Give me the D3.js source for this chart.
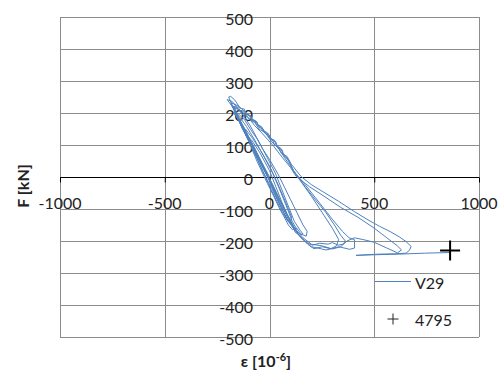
<!DOCTYPE html>
<html><head><meta charset="utf-8">
<script src="https://cdn.jsdelivr.net/npm/d3@7"></script>
<style>body{margin:0;background:#fff}svg{display:block}text{font-family:Lato,"Open Sans",sans-serif}</style>
</head><body>
<svg id="c" width="499" height="370"></svg>
<script>
const xTicks=[-1000,-500,0,500,1000];
const yTicks=[-500,-400,-300,-200,-100,0,100,200,300,400,500];
const seriesName="V29";
const failureName="4795";
const failurePoint=[[862,-230]];
// strain [1e-6], force [kN]
const v29=[
[0,0],[-40,50],[-90,110],[-110,130],[-85,115],[-45,75],[0,20],[30,-30],[60,-80],[80,-110],[62,-100],[30,-60],[0,-12],[-40,40],
[-60,70],[-120,150],[-140,165],[-115,150],[-80,120],[-40,80],[0,35],[35,-15],[65,-60],[90,-100],[105,-125],[100,-140],[85,-135],[70,-115],[40,-75],[10,-35],[-30,15],
[-100,120],[-150,180],[-172,203],[-145,190],[-110,158],[-70,115],[-25,62],[15,12],[48,-38],[80,-90],[108,-138],[130,-163],[112,-160],[82,-128],[52,-90],[22,-42],[-18,18],[-70,90],
[-130,162],[-180,222],[-202,242],[-178,236],[-152,214],[-122,190],[-92,160],[-52,112],[-12,62],[28,12],[58,-38],[88,-88],[118,-138],[148,-168],[160,-178],[142,-182],[122,-172],[112,-152],[92,-142],[62,-112],[32,-72],[2,-32],[-38,28],
[-90,100],[-140,170],[-170,200],[-150,198],[-120,180],[-90,148],[-60,120],[-30,85],[0,55],[40,10],[70,-30],[100,-70],[130,-110],[160,-150],[180,-170],[175,-185],[150,-178],[130,-160],[110,-165],[90,-150],[70,-125],[45,-95],[20,-60],[-10,-20],[-60,50],[-100,112],
[-150,182],[-195,250],[-185,252],[-165,240],[-140,215],[-120,212],[-110,195],[-90,192],[-80,175],[-60,172],[-50,155],[-30,150],[-20,135],[0,130],[10,115],[30,110],[40,90],[60,85],[70,65],[90,55],[110,25],[130,5],[170,-30],[220,-72],[270,-112],[310,-150],[340,-182],[362,-200],[352,-210],[328,-213],[300,-205],[280,-210],[240,-207],[205,-213],[175,-204],[150,-190],[120,-165],[90,-132],[60,-92],[30,-52],[0,-12],[-40,40],[-90,102],[-130,152],
[-168,210],[-185,232],[-168,228],[-150,222],[-130,212],[-115,200],[-100,195],[-88,182],[-72,178],[-62,164],[-44,160],[-34,146],[-14,140],[-4,124],[14,118],[24,100],[44,94],[54,76],[74,68],[98,42],[118,16],[140,0],[180,-32],[240,-82],[300,-132],[348,-170],[380,-190],[406,-196],[406,-222],[382,-226],[332,-218],[292,-224],[252,-218],[212,-224],[182,-210],[152,-190],[130,-172],[102,-142],[72,-102],[42,-62],[12,-22],[-28,28],[-80,92],[-130,152],
[-162,200],[-178,222],[-160,218],[-140,205],[-118,198],[-96,180],[-70,170],[-50,150],[-20,138],[10,110],[40,92],[70,62],[100,34],[140,-5],[200,-60],[260,-120],[300,-160],[330,-195],[320,-215],[290,-225],[270,-228],[230,-222],[200,-218],[170,-200],[140,-180],[110,-150],[80,-112],[50,-72],[20,-30],[-20,22],[-70,84],[-120,146],
[-155,195],[-168,215],[-150,212],[-128,200],[-100,185],[-70,160],[-40,140],[-10,118],[20,96],[60,62],[100,30],[127,2],[190,-30],[260,-60],[340,-95],[420,-125],[500,-160],[560,-190],[610,-215],[630,-228],[611,-237],[560,-222],[500,-204],[450,-196],[405,-190],[370,-200],[340,-218],[300,-225],[250,-215],[200,-210],[160,-190],[120,-160],[80,-110],[40,-60],[0,-10],[-50,60],[-110,140],[-150,190],
[-170,220],[-150,218],[-140,208],[-120,206],[-110,196],[-92,192],[-82,178],[-64,175],[-54,160],[-36,156],[-26,140],[-6,136],[4,120],[24,115],[34,96],[54,90],[64,72],[84,64],[104,40],[150,2],[200,-24],[255,-46],[330,-76],[405,-108],[470,-134],[525,-154],[580,-172],[622,-188],[652,-202],[676,-217],[668,-229],[652,-238],[600,-240],[525,-241],[460,-243],[413,-245],[500,-243],[620,-241],[740,-238],[859,-236]
];

const svg=d3.select("#c");
const x=d3.scaleLinear().domain([-1000,1000]).range([60,479]);
const y=d3.scaleLinear().domain([-500,500]).range([337,17]);
const gridC="#8c8c8c";

// grid
svg.append("g").selectAll("line").data(yTicks).join("line")
 .attr("x1",x(-1000)).attr("x2",x(1000)).attr("y1",d=>y(d)+0.5).attr("y2",d=>y(d)+0.5)
 .attr("stroke",gridC).attr("stroke-width",1);
svg.append("g").selectAll("line").data(xTicks).join("line")
 .attr("y1",y(500)).attr("y2",y(-500)).attr("x1",d=>Math.round(x(d))+0.5).attr("x2",d=>Math.round(x(d))+0.5)
 .attr("stroke",gridC).attr("stroke-width",1);

// x axis at zero
const xAxis=d3.axisBottom(x).tickValues(xTicks).tickSize(5).tickFormat("");
const gx=svg.append("g").attr("transform",`translate(0,${Math.round(y(0))+0.5})`).call(xAxis);
gx.select(".domain").attr("stroke","#000").attr("d",`M${x(-1000)},0H${x(1000)}`);
gx.selectAll(".tick line").attr("stroke","#000");

// tick labels
svg.append("g").selectAll("text").data(xTicks).join("text")
 .attr("x",d=>x(d)).attr("y",202).attr("text-anchor","middle").attr("dominant-baseline","central")
 .attr("font-size",16).attr("fill","#222").text(d=>d);
svg.append("g").selectAll("text").data(yTicks).join("text")
 .attr("x",253).attr("y",d=>y(d)+1).attr("text-anchor","end").attr("dominant-baseline","central")
 .attr("font-size",16).attr("fill","#222").text(d=>d);

// series
const line=d3.line().x(d=>x(d[0])).y(d=>y(d[1]));
svg.append("path").datum(v29).attr("d",line).attr("fill","none")
 .attr("stroke","#4f81bd").attr("stroke-width",1).attr("stroke-linejoin","round");

// failure marker
const plus=(g,s)=>g.attr("d",`M${-s},0H${s}M0,${-s}V${s}`);
svg.append("g").selectAll("path").data(failurePoint).join("path")
 .attr("transform",d=>`translate(${x(d[0])},${y(d[1])})`)
 .call(p=>plus(p,10)).attr("stroke","#000").attr("stroke-width",2).attr("fill","none");

// legend
svg.append("line").attr("x1",375).attr("x2",411).attr("y1",281.5).attr("y2",281.5).attr("stroke","#4f81bd").attr("stroke-width",1);
svg.append("text").attr("x",415).attr("y",282).attr("dominant-baseline","central").attr("font-size",16).attr("fill","#222").text(seriesName);
svg.append("path").attr("transform","translate(393,319)").call(p=>plus(p,5.5)).attr("stroke","#222").attr("stroke-width",1).attr("fill","none");
svg.append("text").attr("x",415).attr("y",319).attr("dominant-baseline","central").attr("font-size",16).attr("fill","#222").text(failureName);

// axis titles
svg.append("text").attr("transform","translate(22,186) rotate(-90)").attr("text-anchor","middle").attr("dominant-baseline","central")
 .attr("font-size",16).attr("font-weight","bold").attr("fill","#222").text("F [kN]");
const t=svg.append("text").attr("x",266).attr("y",367).attr("text-anchor","middle").attr("font-size",16).attr("font-weight","bold").attr("fill","#222");
t.append("tspan").text("ε [10");
t.append("tspan").attr("dy",-6).attr("font-size",11).text("-6");
t.append("tspan").attr("dy",6).text("]");
</script>
</body></html>
